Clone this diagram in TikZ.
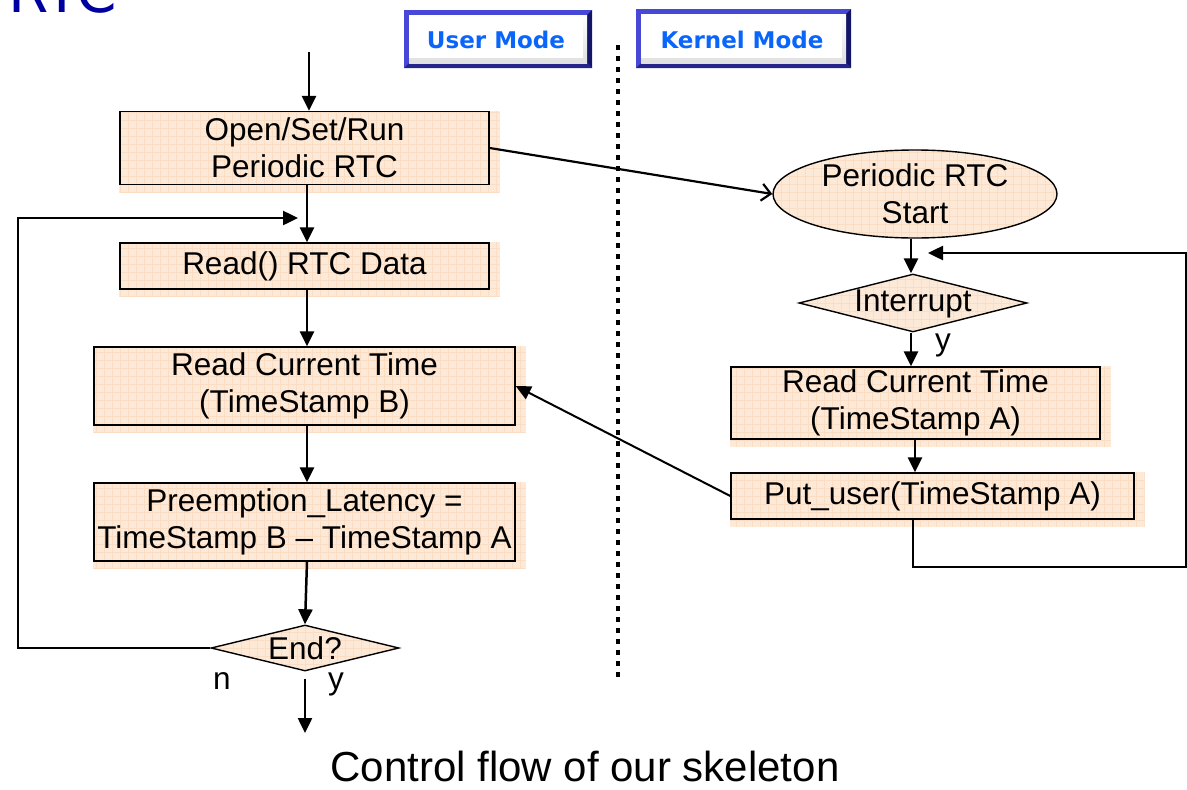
\documentclass[tikz,border=0pt]{standalone}
\usepackage{fontspec}
\setmainfont{Liberation Sans}
\newfontfamily\verdfont{DejaVu Sans}
\usetikzlibrary{arrows.meta,shapes.geometric,backgrounds,calc}
\definecolor{peach}{RGB}{253,233,216}
\definecolor{peachgrid}{RGB}{250,221,194}
\definecolor{modeblue}{RGB}{72,72,214}
\definecolor{modedark}{RGB}{20,20,105}
\definecolor{modetext}{RGB}{10,102,250}
\definecolor{titleblue}{RGB}{0,0,160}
\tikzset{
  txt/.style={font=\fontsize{31.5}{37}\selectfont, align=center, inner sep=0pt},
  gridfill/.style={fill=peach, path picture={
      \draw[peachgrid, line width=0.5pt, step=8pt]
        (path picture bounding box.south west) grid (path picture bounding box.north east);}},
  stepbox/.style={draw, line width=1.4pt, rectangle, txt},
  decision/.style={draw, line width=1.4pt, diamond, gridfill, inner sep=0pt},
  startell/.style={draw, line width=1.4pt, ellipse, gridfill, txt},
  flow/.style={line width=2.5pt, -{Triangle[length=15pt,width=14pt]}},
  openflow/.style={line width=2.2pt, -{Straight Barb[length=9pt,width=17pt,line width=2.2pt]}},
  modelabel/.style={font=\verdfont\bfseries\fontsize{23}{26}\selectfont, text=modetext, inner sep=0pt},
}
\newcommand{\modebox}[4]{% x1 y1 x2 y2
  \fill[modeblue] (#1,#2) rectangle (#3,#4);
  \fill[modedark] (#3-5,#2+5) -- (#3,#2) -- (#3,#4) -- (#3-5,#4-5) -- cycle;
  \fill[modedark!70!modeblue] (#1+5,#4-5) -- (#3-5,#4-5) -- (#3,#4) -- (#1,#4) -- cycle;
  \shade[top color=white, bottom color=gray!25] (#1+5,#2+5) rectangle (#3-5,#4-5);
  \fill[white] (#1+5,#2+5) rectangle (#3-9,#4-10);
}
\begin{document}
\begin{tikzpicture}[x=1pt,y=-1pt]
\useasboundingbox (0,0) rectangle (1187,790);

% page title, cut by the top edge
\node[anchor=base west, inner sep=0pt, font=\verdfont\fontsize{58}{60}\selectfont, text=titleblue]
  (title) at (8,12.5) {RTC};

% mode headers
\modebox{404}{10}{592}{68}
\node[modelabel] (umode) at (496,40) {User Mode};
\modebox{636}{9}{851}{68}
\node[modelabel] (kmode) at (742,40) {Kernel Mode};

% separator between user and kernel space
\coordinate (septop) at (618,45);
\coordinate (sepbot) at (618,680);
\draw[line width=4pt, dash pattern=on 5pt off 6pt] (septop) -- (sepbot);

% ---- user-mode flow ----
\node[stepbox, minimum width=369pt, minimum height=73pt] (b1) at (304.5,148)
  {Open/Set/Run\\Periodic RTC};
\node[stepbox, minimum width=369pt, minimum height=46pt] (b2) at (304.5,266)
  {Read() RTC Data};
\node[stepbox, minimum width=421pt, minimum height=78pt] (b3) at (304.5,386)
  {Read Current Time\\(TimeStamp B)};
\node[stepbox, minimum width=421pt, minimum height=78pt] (b4) at (304.5,522)
  {Preemption\_Latency =\\TimeStamp B -- TimeStamp A};
\node[decision, minimum width=188pt, minimum height=46pt] (end) at (305,648) {};
\node[txt] (endt) at (305,648) {End?};
\node[txt, anchor=base] (nlab) at (222,689) {n};
\node[txt, anchor=base] (ylab) at (336,689) {y};

% ---- kernel-mode flow ----
\node[startell, minimum width=284pt, minimum height=88pt] (rtc) at (915,194)
  {Periodic RTC\\Start};
\node[decision, minimum width=228pt, minimum height=58pt] (irq) at (913,303) {};
\node[txt] (irqt) at (913,304) {Interrupt};
\node[txt, anchor=base] (iylab) at (943,350) {y};
\node[stepbox, minimum width=369pt, minimum height=72pt] (ka) at (915.5,403)
  {Read Current Time\\(TimeStamp A)};
\node[stepbox, minimum width=403pt, minimum height=46pt] (kb) at (932.5,496)
  {Put\_user(TimeStamp A)};

% box fills with their offset grid backing
\begin{scope}[on background layer]
  \foreach \n in {b1,b2,b3,b4,ka,kb}{
    \path[gridfill] (\n.north west) rectangle ([xshift=10pt,yshift=-7pt]\n.south east);
  }
\end{scope}

% ---- connectors, user side ----
\coordinate (spine) at (307,0);
\coordinate (entry) at (309,52);
\draw[flow] (entry) -- (entry |- b1.north);
\draw[flow] (spine |- b1.south) -- (spine |- b2.north);
\coordinate (lc) at (18,218);
\coordinate (ltip) at (298,218);
\draw[flow] (end.west) -| (lc) -- (ltip);
\draw[flow] (spine |- b2.south) -- (spine |- b3.north);
\draw[flow] (spine |- b3.south) -- (spine |- b4.north);
\draw[flow] (spine |- b4.south) -- (end.north);
\coordinate (exit) at (305,733);
\draw[flow] ([yshift=-7pt]end.south) -- (exit);

% user to kernel
\draw[openflow] (b1.east) -- (rtc.west);

% ---- connectors, kernel side ----
\coordinate (kspine) at (911,0);
\draw[flow] (rtc.south -| kspine) -- (irq.north -| kspine);
\draw[flow] (irq.south -| kspine) -- (ka.north -| kspine);
\coordinate (kspine2) at (915,0);
\draw[flow] (ka.south -| kspine2) -- (kb.north -| kspine2);
\coordinate (rbl) at (913,567);
\coordinate (rbr) at (1186,567);
\coordinate (rtr) at (1186,253);
\coordinate (rtip) at (928,253);
\draw[flow] (rbl |- kb.south) -- (rbl) -- (rbr) -- (rtr) -- (rtip);

% kernel back to user
\draw[flow, line width=2pt] (kb.west) -- (b3.east);

% caption
\node[anchor=base, inner sep=0pt, font=\fontsize{42}{46}\selectfont] (cap) at (585,781)
  {Control flow of our skeleton};
\end{tikzpicture}
\end{document}
